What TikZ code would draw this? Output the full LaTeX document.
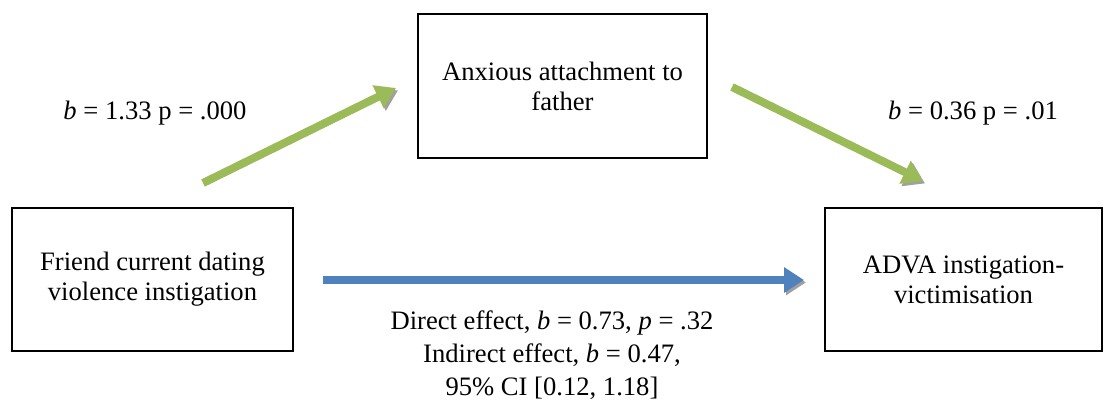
\documentclass[tikz,border=0pt]{standalone}
\usepackage{fontspec}
\setmainfont{Liberation Serif}
\usetikzlibrary{arrows.meta}

\definecolor{pathgreen}{RGB}{155,187,89}
\definecolor{pathblue}{RGB}{79,129,189}
\definecolor{shadowgray}{RGB}{160,160,160}

\begin{document}
\begin{tikzpicture}[x=0.451pt,y=-0.451pt,
    font=\fontsize{12}{13.6}\selectfont,
    varbox/.style={draw,line width=0.9pt,align=center,
        minimum width=#1,minimum height=64.8pt,inner sep=0pt},
    effect/.style={line width=3.6pt,draw=#1,
        -{Triangle[length=9pt,width=11pt]},
        preaction={draw=shadowgray,
            transform canvas={shift={(0.9pt,-1.1pt)}}}
    }
]

% page frame
\useasboundingbox (0,0) rectangle (1104,401);

% Boxes
\node[varbox=126.7pt] (friend) at (152.5,279.5) {Friend current dating\\violence instigation};
\node[varbox=130.3pt] (anxious) at (562.5,86) {Anxious attachment to\\father};
\node[varbox=124.5pt] (adva) at (963.5,279.5) {ADVA instigation-\\victimisation};

% Arrow ends
\coordinate (a1) at (203,183);
\coordinate (a2) at (396,88);
\coordinate (b1) at (732,87);
\coordinate (b2) at (923,181);
\coordinate (c1) at (323,280);
\coordinate (c2) at (804,280);

% Paths
\draw[effect=pathgreen] (a1) -- (a2);
\draw[effect=pathgreen] (b1) -- (b2);
\draw[effect=pathblue] (c1) -- (c2);

% --- Labels ---
\node (labA) at (155,113) {\textit{b} = 1.33 p = .000};
\node (labB) at (973,113) {\textit{b} = 0.36 p = .01};
\node[align=center,font=\fontsize{12}{14.9}\selectfont] (labC) at (552,355)
    {Direct effect, \textit{b} = 0.73, \textit{p} = .32\\
     Indirect effect, \textit{b} = 0.47,\\
     95\% CI [0.12, 1.18]};

\end{tikzpicture}
\end{document}
